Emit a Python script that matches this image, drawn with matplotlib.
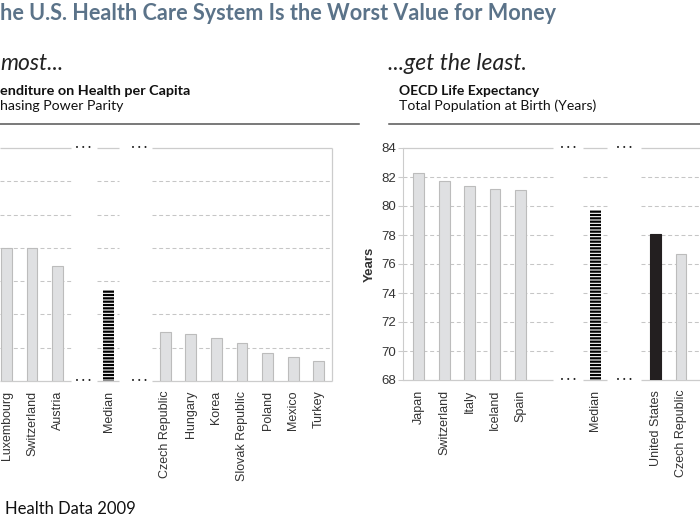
import numpy as np
import matplotlib.pyplot as plt
from matplotlib.lines import Line2D

# left panel: expenditure on health per capita (US$ PPP)
spend_top = ['Luxembourg', 'Switzerland', 'Austria']
spend_top_vals = [4010, 4000, 3460]
spend_median = 2730
spend_low = ['Czech Republic', 'Hungary', 'Korea', 'Slovak Republic',
             'Poland', 'Mexico', 'Turkey']
spend_low_vals = [1470, 1400, 1280, 1130, 850, 720, 610]

# right panel: life expectancy at birth (years)
life_top = ['Japan', 'Switzerland', 'Italy', 'Iceland', 'Spain']
life_top_vals = [82.3, 81.7, 81.4, 81.2, 81.1]
life_median = 79.7
life_low = ['United States', 'Czech Republic']
life_low_vals = [78.1, 76.7]

W, H = 700, 525
BAR = '#dfe0e2'
EDGE = '#bcbcbc'
FRAME = '#cccccc'
GRID = '#c6c6c6'
TXT = '#333333'

plt.rcParams['hatch.linewidth'] = 1.6
plt.rcParams['font.family'] = ['Liberation Sans', 'DejaVu Sans']

fig = plt.figure(figsize=(7, 5.25), dpi=100)


def px_axes(x0, y0, x1, y1):
    return fig.add_axes([x0 / W, 1 - y1 / H, (x1 - x0) / W, (y1 - y0) / H])


def figtext(x, y, s, **kw):
    fig.text(x / W, 1 - y / H, s, va='center', **kw)


def panel(ax, xlim, ylim, grid, segs, dots, groups, median, us=None):
    ax.set_xlim(*xlim)
    ax.set_ylim(*ylim)
    for s in ax.spines.values():
        s.set_visible(False)
    for a, b in segs:
        ax.hlines([ylim[0], ylim[1]], a, b, color=FRAME, lw=0.9,
                  clip_on=False, zorder=2)
        ax.hlines(grid, a, b, color=GRID, lw=0.75,
                  linestyles=(0, (3.8, 2.6)), zorder=1)
    for d in dots:
        for y in ylim:
            ax.text(d, y, '\u2022 \u2022 \u2022', fontsize=5, color='#222',
                    ha='center', va='center', family='DejaVu Sans',
                    clip_on=False)
    pos, labels = [], []
    for p, names, vals in groups:
        colors = [BAR] * len(vals)
        edges = [EDGE] * len(vals)
        if us is not None and us in names:
            colors[names.index(us)] = '#231f20'
            edges[names.index(us)] = '#231f20'
        ax.bar(p, vals, width=0.42, color=colors, edgecolor=edges, lw=0.8,
               zorder=3)
        pos += list(p)
        labels += names
    mp, mv = median
    ax.bar([mp], [mv], width=0.44, color='white', edgecolor='#000000',
           hatch='-----', lw=0, zorder=3)
    pos.append(mp)
    labels.append('Median')
    ax.set_xticks(pos)
    ax.set_xticklabels(labels, rotation=90, fontsize=9, color=TXT)
    ax.tick_params(axis='x', length=0, pad=7)


# ---- left panel ----
axL = px_axes(0, 148, 332, 381)
xl = (-0.254, 12.715)
panel(axL, xl, (0, 7000), np.arange(1000, 7000, 1000),
      [(xl[0], 2.51), (3.54, 4.4), (5.68, xl[1])], [2.99, 5.2],
      [(np.arange(3), spend_top, spend_top_vals),
       (6.2 + np.arange(7), spend_low, spend_low_vals)],
      (3.99, spend_median))
axL.vlines(xl[1], 0, 7000, color=FRAME, lw=0.9, clip_on=False)
axL.set_yticks([])

# ---- right panel ----
axR = px_axes(403, 148, 700, 380)
xr = (-0.617, 11.05)
panel(axR, xr, (68, 84), np.arange(70, 84, 2),
      [(xr[0], 5.29), (6.45, 7.39), (8.73, xr[1])], [5.87, 8.09],
      [(np.arange(5), life_top, life_top_vals),
       (np.array([9.31, 10.3]), life_low, life_low_vals)],
      (6.93, life_median), us='United States')
axR.spines['left'].set_visible(True)
axR.spines['left'].set_color(FRAME)
axR.set_yticks(np.arange(68, 85, 2))
axR.tick_params(axis='y', length=3.5, pad=1.5, color=FRAME, labelsize=9.5,
                labelcolor=TXT)
axR.set_ylabel('Years', fontsize=9.5, fontweight='bold', color=TXT,
               labelpad=4)

# ---- slide text ----
hdr = 'Lato'
figtext(0, 13, 'he U.S. Health Care System Is the Worst Value for Money',
        fontsize=15.6, fontweight='bold', color='#5b7389', family=hdr)
figtext(0, 63, 'most...', fontsize=16.5, style='italic', color='#222',
        family=hdr)
figtext(388, 63, '...get the least.', fontsize=16.5, style='italic',
        color='#222', family=hdr)
figtext(0, 91, 'enditure on Health per Capita', fontsize=10.4,
        fontweight='bold', color='#111', family=hdr)
figtext(0, 106, 'hasing Power Parity', fontsize=10.2, color='#111',
        family=hdr)
figtext(399, 91, 'OECD Life Expectancy', fontsize=10, fontweight='bold',
        color='#111', family=hdr)
figtext(399, 106, 'Total Population at Birth (Years)', fontsize=10.1,
        color='#111', family=hdr)
figtext(5, 509, 'Health Data 2009', fontsize=12, color='#111', family=hdr)

fig.add_artist(Line2D([0, 359 / W], [1 - 124 / H] * 2, color='#555', lw=1.1))
fig.add_artist(Line2D([389 / W, 1], [1 - 124 / H] * 2, color='#555', lw=1.1))

fig.savefig('out.png', dpi=100)
